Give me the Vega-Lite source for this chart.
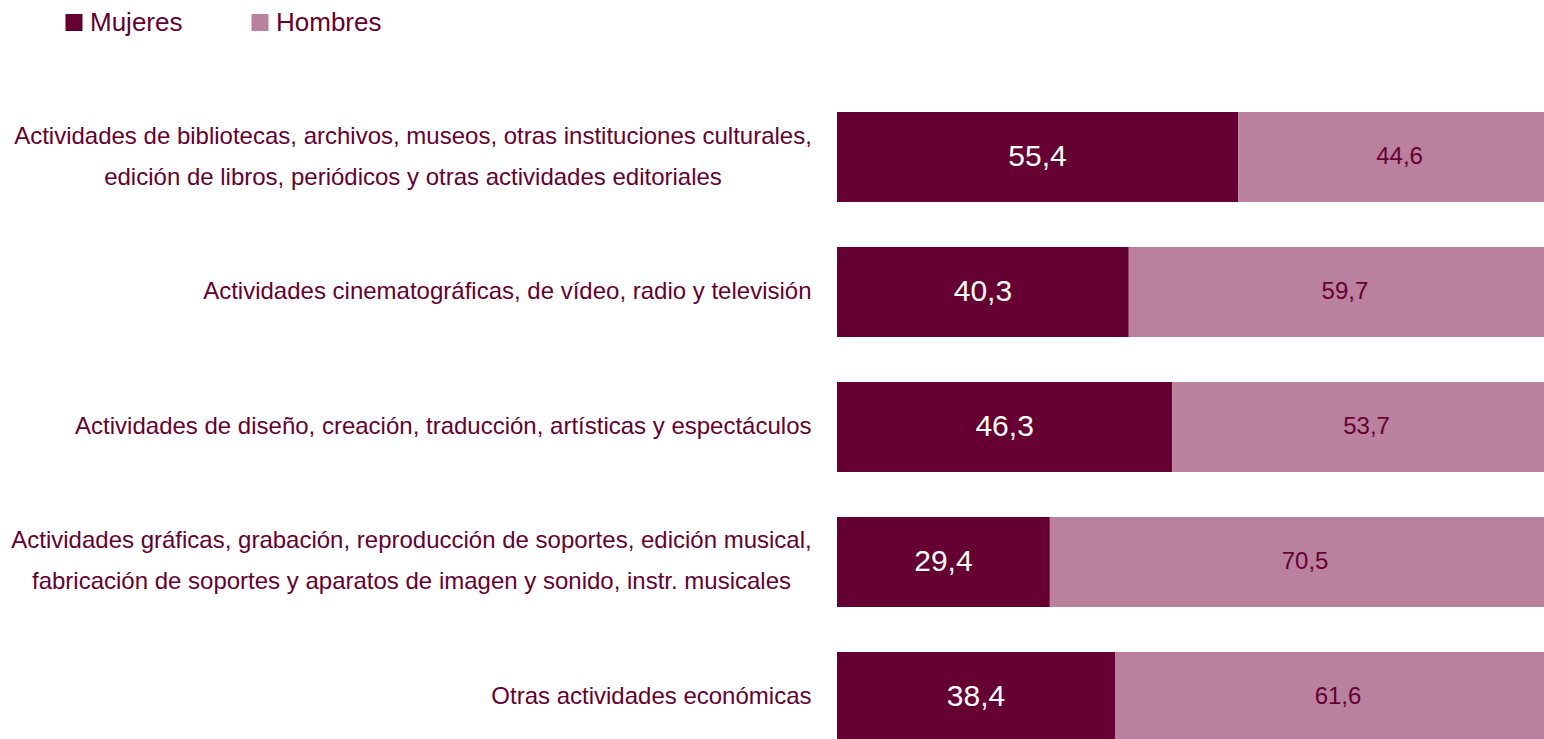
{
  "$schema": "https://vega.github.io/schema/vega-lite/v6.json",
  "autosize": {"type": "none"},
  "padding": {"left": 837, "top": 89.5, "right": 0, "bottom": 0},
  "width": 707,
  "height": 649.5,
  "background": "white",
  "config": {
    "view": {"stroke": null},
    "font": "Liberation Sans",
    "locale": {"number": {"decimal": ",", "thousands": ".", "grouping": [3], "currency": ["", " €"]}}
  },
  "data": {
    "values": [
      {"cat": "Actividades de bibliotecas, archivos, museos, otras instituciones culturales,|edición de libros, periódicos y otras actividades editoriales", "sexo": "Mujeres", "valor": 55.4},
      {"cat": "Actividades de bibliotecas, archivos, museos, otras instituciones culturales,|edición de libros, periódicos y otras actividades editoriales", "sexo": "Hombres", "valor": 44.6},
      {"cat": "Actividades cinematográficas, de vídeo, radio y televisión", "sexo": "Mujeres", "valor": 40.3},
      {"cat": "Actividades cinematográficas, de vídeo, radio y televisión", "sexo": "Hombres", "valor": 59.7},
      {"cat": "Actividades de diseño, creación, traducción, artísticas y espectáculos", "sexo": "Mujeres", "valor": 46.3},
      {"cat": "Actividades de diseño, creación, traducción, artísticas y espectáculos", "sexo": "Hombres", "valor": 53.7},
      {"cat": "Actividades gráficas, grabación, reproducción de soportes, edición musical,|fabricación de soportes y aparatos de imagen y sonido, instr. musicales", "sexo": "Mujeres", "valor": 29.4},
      {"cat": "Actividades gráficas, grabación, reproducción de soportes, edición musical,|fabricación de soportes y aparatos de imagen y sonido, instr. musicales", "sexo": "Hombres", "valor": 70.5},
      {"cat": "Otras actividades económicas", "sexo": "Mujeres", "valor": 38.4},
      {"cat": "Otras actividades económicas", "sexo": "Hombres", "valor": 61.6}
    ]
  },
  "transform": [
    {"stack": "valor", "groupby": ["cat"], "as": ["x0", "x1"], "sort": [{"field": "sexo", "order": "descending"}]}
  ],
  "encoding": {
    "y": {
      "field": "cat",
      "type": "nominal",
      "sort": null,
      "title": null,
      "scale": {"paddingInner": 0.33333, "paddingOuter": 0.16667, "range": [0, 675]},
      "axis": {
        "domain": false,
        "ticks": false,
        "labelAlign": {"condition": {"test": "indexof(datum.value, '|') >= 0", "value": "center"}, "value": "right"},
        "labelOffset": {"condition": {"test": "indexof(datum.value, '|') >= 0", "value": -20.5}, "value": 0},
        "labelPadding": {"condition": [
          {"test": "indexof(datum.value, 'de bibliotecas') >= 0", "value": 424.5},
          {"test": "indexof(datum.value, 'Actividades gráficas') >= 0", "value": 426}
        ], "value": 26},
        "labelLimit": 1000,
        "labelFont": "Liberation Sans",
        "labelFontSize": 24,
        "labelColor": "#660033",
        "labelBaseline": "middle",
        "labelLineHeight": 41,
        "labelExpr": "split(datum.label, '|')"
      }
    }
  },
  "layer": [
    {
      "mark": {"type": "bar", "clip": true},
      "encoding": {
        "x": {"field": "x0", "type": "quantitative", "scale": {"domain": [0, 97.65], "nice": false, "zero": true}, "axis": null},
        "x2": {"field": "x1"},
        "color": {
          "field": "sexo",
          "type": "nominal",
          "scale": {"domain": ["Mujeres", "Hombres"], "range": ["#660033", "#b9819e"]},
          "legend": {
            "title": null,
            "orient": "none",
            "direction": "horizontal",
            "legendX": -776,
            "legendY": -80,
            "padding": 0,
            "symbolType": "square",
            "symbolSize": 289,
            "symbolStrokeWidth": 0,
            "labelFont": "Liberation Sans",
            "labelFontSize": 26,
            "labelColor": "#660033",
            "labelOffset": 3,
            "columnPadding": 64,
            "labelLimit": 300
          }
        }
      }
    },
    {
      "transform": [
        {"fold": ["x0", "x1"], "as": ["k", "v"]},
        {"aggregate": [{"op": "mean", "field": "v", "as": "mid"}], "groupby": ["cat", "sexo", "valor"]}
      ],
      "mark": {"type": "text", "align": "center", "baseline": "middle", "font": "Liberation Sans"},
      "encoding": {
        "x": {"field": "mid", "type": "quantitative"},
        "text": {"field": "valor", "type": "quantitative", "format": ".1f"},
        "color": {
          "condition": {"test": "datum.sexo === 'Mujeres'", "value": "white"},
          "value": "#660033"
        },
        "size": {
          "condition": {"test": "datum.sexo === 'Mujeres'", "value": 30},
          "value": 24
        }
      }
    }
  ]
}
